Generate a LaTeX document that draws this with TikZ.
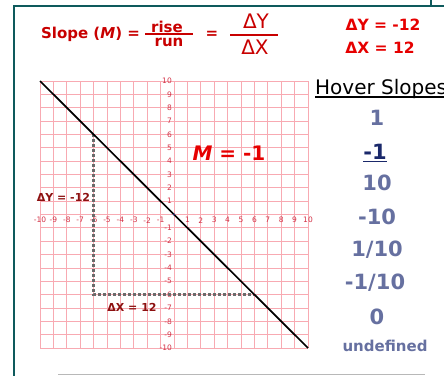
\documentclass[tikz,border=0pt]{standalone}
\usepackage{fontspec}
\setmainfont{DejaVu Sans}
\definecolor{framecol}{RGB}{14,90,92}
\definecolor{gridcol}{RGB}{248,170,178}
\definecolor{tickcol}{RGB}{210,50,70}
\definecolor{titlered}{RGB}{200,0,0}
\definecolor{brightred}{RGB}{230,0,0}
\definecolor{darkred}{RGB}{140,16,16}
\definecolor{slopecol}{RGB}{102,112,160}
\definecolor{navycol}{RGB}{26,40,106}
\begin{document}
\begin{tikzpicture}[
		x=1pt, y=-1pt,
		every node/.style={inner sep=0pt},
		frameline/.style={draw=framecol, line width=2.5pt},
		gridline/.style={draw=gridcol, line width=0.8pt},
		ticklabel/.style={text=tickcol, font=\fontsize{7.5}{8}\selectfont},
		headline/.style={text=titlered, font=\fontsize{15}{18}\selectfont\bfseries},
		bigdelta/.style={text=titlered, font=\fontsize{20}{24}\selectfont},
		deltaval/.style={text=brightred, font=\fontsize{15.5}{18}\selectfont\bfseries},
		graphlabel/.style={text=darkred, font=\fontsize{11}{13}\selectfont\bfseries},
		slopeitem/.style={text=slopecol, font=\fontsize{21}{24}\selectfont\bfseries},
		guide/.style={draw=black!58, line width=2.4pt, dash pattern=on 3pt off 2pt}
	]
	\useasboundingbox (0,0) rectangle (444,375);
	\coordinate (ftl) at (14,6);
	\coordinate (fbl) at (14,376);
	\coordinate (ftr) at (444,6);
	\coordinate (stubtop) at (431,0);
	\coordinate (stubbot) at (431,6);
	\draw[frameline] (fbl) -- (ftl) -- (ftr);
	\draw[frameline, line width=2pt] (stubtop) -- (stubbot);
	\coordinate (baseleft) at (58,374);
	\coordinate (baseright) at (425,374);
	\draw[black!28, line width=1pt] (baseleft) -- (baseright);

	\begin{scope}[shift={(174pt,-214.5pt)}, x=13.4pt, y=13.35pt]
		\draw[gridline, step=1] (-10,-10) grid (10,10);
		\foreach \k in {-10,...,-1,1,2,...,10} {
			\node[ticklabel] (xt\k) at (\k,-0.43) {\k};
			\node[ticklabel, anchor=east] (yt\k) at (-0.15,\k) {\k};
		}
		\coordinate (a) at (-6,6);
		\coordinate (b) at (-6,-6);
		\coordinate (c) at (6,-6);
		\draw[guide] (a) -- (b) -- (c);
		\coordinate (top) at (-10,10);
		\coordinate (bot) at (10,-10);
		\draw[black, line width=1.7pt] (top) -- (bot);
		\node[circle, fill=navycol, minimum size=2.4pt] (origin) at (0,0) {};
	\end{scope}

	\node[graphlabel] (dylabel) at (63.5,197) {ΔY = -12};
	\node[graphlabel] (dxlabel) at (132,307) {ΔX = 12};
	\node[text=brightred, font=\fontsize{20}{24}\selectfont\bfseries] (mlabel) at (229,153) {\textit{M} = -1};

	\node[headline] (slope) at (90.5,34) {Slope (\textit{M}) =};
	\node[headline] (rise) at (167,27) {rise};
	\node[headline] (run) at (169,42) {run};
	\coordinate (risel) at (145,34);
	\coordinate (riser) at (193,34);
	\draw[titlered, line width=1.2pt] (risel) -- (riser);
	\node[headline] (eq) at (212,35) {=};
	\node[bigdelta] (dy) at (256,21) {ΔY};
	\node[bigdelta] (dx) at (255,47) {ΔX};
	\coordinate (deltal) at (230,35);
	\coordinate (deltar) at (278,35);
	\draw[titlered, line width=1.2pt] (deltal) -- (deltar);
	\node[deltaval] (dyval) at (383,25) {ΔY = -12};
	\node[deltaval] (dxval) at (380,47.5) {ΔX = 12};

	\node[font=\fontsize{20}{24}\selectfont, anchor=base west] (hover) at (315,94) {Hover Slopes};
	\draw[line width=1.2pt] ([yshift=-3pt]hover.base west) -- ([yshift=-3pt]hover.base east);
	\node[slopeitem] (s1) at (377,118) {1};
	\node[slopeitem, text=navycol] (sm1) at (375,152) {-1};
	\draw[navycol, line width=1.5pt] ([yshift=-2pt]sm1.base west) -- ([yshift=-2pt]sm1.base east);
	\node[slopeitem] (s10) at (377,183) {10};
	\node[slopeitem] (sm10) at (377,217) {-10};
	\node[slopeitem] (s110) at (377,250) {1/10};
	\node[slopeitem] (sm110) at (375,283) {-1/10};
	\node[slopeitem] (s0) at (377,317) {0};
	\node[slopeitem, font=\fontsize{15}{18}\selectfont\bfseries] (sundef) at (385,346) {undefined};
\end{tikzpicture}
\end{document}
